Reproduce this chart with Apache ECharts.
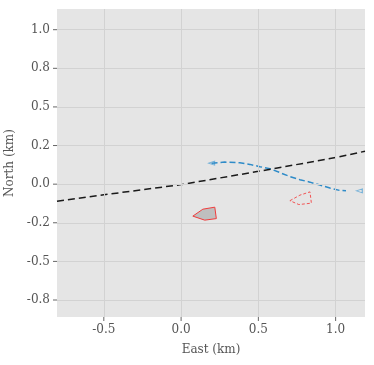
<!DOCTYPE html>
<html>
<head>
<meta charset="utf-8">
<script src="https://cdn.jsdelivr.net/npm/echarts@6/dist/echarts.min.js"></script>
<style>
  html, body { margin: 0; padding: 0; background: #fff; }
  #chartMap { width: 374px; height: 365px; }
</style>
</head>
<body>
<div id="chartMap"></div>
<script>
// reference line (black dashed)
const refLine = [[-0.803, -0.11], [-0.5, -0.069], [0, -0.003], [0.5, 0.083], [1.0, 0.172], [1.19, 0.213]]
// track (blue dashed)
const track = [
  [0.197, 0.136], [0.283, 0.143], [0.38, 0.139], [0.445, 0.128], [0.51, 0.113],
  [0.575, 0.1], [0.639, 0.075], [0.704, 0.049], [0.769, 0.029], [0.834, 0.013],
  [0.898, -0.006], [0.963, -0.025], [1.028, -0.041], [1.067, -0.043]
]
const trackMarks = [[0.197, 0.136], [1.153, -0.043]]
// red dashed outline
const zoneA = [[0.704, -0.107], [0.769, -0.071], [0.834, -0.05], [0.843, -0.123], [0.762, -0.132]]
// grey filled shape
const zoneB = [[0.076, -0.207], [0.141, -0.162], [0.218, -0.149], [0.228, -0.223], [0.153, -0.233]]

const xTicks = [-0.5, 0, 0.5, 1.0]
const xTickLabels = ['-0.5', '0.0', '0.5', '1.0']
const yTicks = [-0.75, -0.5, -0.25, 0, 0.25, 0.5, 0.75, 1.0]
const yTickLabels = ['-0.8', '-0.5', '-0.2', '0.0', '0.2', '0.5', '0.8', '1.0']

const font = 'DejaVu Serif'
const labelColor = '#555'

const polygon = (pts, style) => ({
  type: 'custom',
  data: pts,
  encode: { x: 0, y: 1 },
  silent: true,
  renderItem: (params, api) => {
    if (params.dataIndex !== 0) return
    return {
      type: 'polygon',
      shape: { points: pts.map(p => api.coord(p)) },
      style: style
    }
  }
})

// small tick marks outside the plot, placed via the axis scale
const tickMarks = (vals, isX) => ({
  type: 'custom',
  data: vals.map(v => isX ? [v, 0] : [0, v]),
  encode: { x: 0, y: 1 },
  silent: true,
  clip: false,
  renderItem: (params, api) => {
    const cs = params.coordSys
    const p = api.coord([api.value(0), api.value(1)])
    const shape = isX
      ? { x1: p[0], y1: cs.y + cs.height, x2: p[0], y2: cs.y + cs.height + 4 }
      : { x1: cs.x - 4, y1: p[1], x2: cs.x, y2: p[1] }
    return { type: 'line', shape: shape, style: { stroke: '#666', lineWidth: 1 } }
  }
})

const myChart = echarts.init(document.getElementById('chartMap'))
const option = {
  animation: false,
  backgroundColor: '#fff',
  grid: {
    left: 57,
    right: 9,
    top: 9,
    bottom: 48,
    outerBoundsMode: 'none',
    containLabel: false,
    show: true,
    backgroundColor: '#e5e5e5',
    borderWidth: 0
  },
  xAxis: {
    type: 'value',
    min: -0.803,
    max: 1.19,
    name: 'East (km)',
    nameLocation: 'middle',
    nameGap: 27,
    nameTextStyle: { fontFamily: font, fontSize: 12, color: labelColor },
    axisLine: { show: false, onZero: false },
    axisTick: { show: false },
    axisLabel: {
      customValues: xTicks,
      fontFamily: font, fontSize: 12, color: labelColor, margin: 7,
      formatter: v => xTickLabels[xTicks.indexOf(v)]
    },
    splitLine: { show: false }
  },
  yAxis: {
    type: 'value',
    min: -0.86,
    max: 1.134,
    name: 'North (km)',
    nameLocation: 'middle',
    nameGap: 41,
    nameTextStyle: { fontFamily: font, fontSize: 12, color: labelColor },
    axisLine: { show: false, onZero: false },
    axisTick: { show: false },
    axisLabel: {
      customValues: yTicks,
      fontFamily: font, fontSize: 12, color: labelColor, margin: 7,
      formatter: v => yTickLabels[yTicks.indexOf(v)]
    },
    splitLine: { show: false }
  },
  series: [
    {
      // grid lines drawn at tick values
      type: 'line',
      data: [],
      silent: true,
      markLine: {
        silent: true,
        symbol: 'none',
        label: { show: false },
        lineStyle: { color: '#d2d2d2', width: 1, type: 'solid' },
        data: xTicks.map(v => ({ xAxis: v })).concat(yTicks.map(v => ({ yAxis: v })))
      }
    },
    tickMarks(xTicks, true),
    tickMarks(yTicks, false),
    polygon(zoneB, { fill: '#bfbfbf', stroke: '#f03c3c', lineWidth: 1 }),
    polygon(zoneA, { fill: 'none', stroke: '#f25555', lineWidth: 1, lineDash: [3, 2] }),
    {
      name: 'track',
      type: 'line',
      data: track,
      showSymbol: false,
      lineStyle: { color: '#2e8bc8', width: 1.5, type: [6, 3] }
    },
    {
      type: 'scatter',
      data: trackMarks,
      symbol: 'triangle',
      symbolRotate: 90,
      symbolSize: [4, 6],
      itemStyle: { color: 'rgba(0,0,0,0)', borderColor: '#5aa5d6', borderWidth: 1 }
    },
    {
      name: 'line',
      type: 'line',
      data: refLine,
      showSymbol: false,
      lineStyle: { color: '#1a1a1a', width: 1.5, type: [7, 4] }
    }
  ]
}
option && myChart.setOption(option)
</script>
</body>
</html>
